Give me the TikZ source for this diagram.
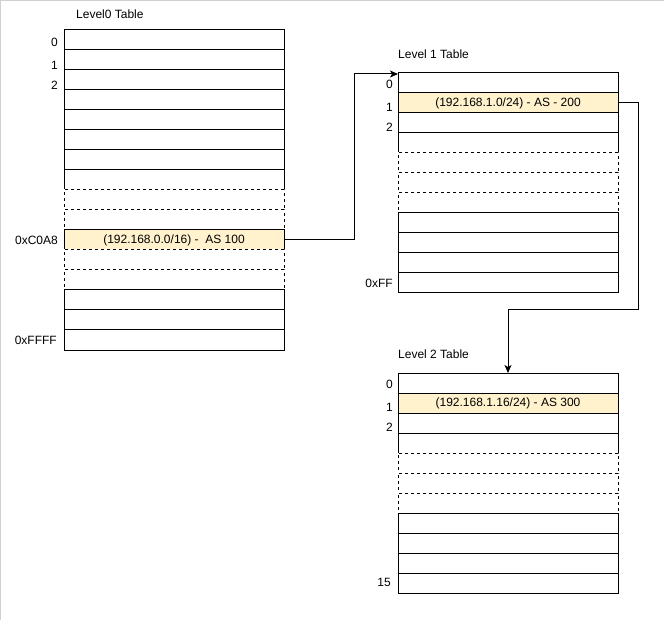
\documentclass[tikz,border=0pt]{standalone}
\usepackage{fontspec}
\setmainfont{Liberation Sans}
\usetikzlibrary{arrows.meta}
\definecolor{hitfill}{HTML}{FFF2CC}
\tikzset{
  row/.style={draw, rectangle, minimum width=220, minimum height=20, inner sep=0, outer sep=0, line width=1},
  hitrow/.style={row, fill=hitfill},
  gaprow/.style={row, dash pattern=on 3 off 3, preaction={draw=white, solid}},
  idx/.style={anchor=east, inner sep=0},
  title/.style={anchor=west, inner sep=0},
  link/.style={line width=1, -{Stealth[length=8, width=7, inset=2]}}
}
\begin{document}
\begin{tikzpicture}[x=1pt, y=-1pt, font=\fontsize{12}{14}\selectfont]
      \useasboundingbox (0,0) rectangle (664,620);
      \draw[black!18, line width=1] (0.5,620) -- (0.5,0.5) -- (664,0.5);
      % level 0 table
      \node[title] (t0) at (76,14) {Level0 Table};
      \draw
        (174,40) node[row] (l0r0){}
        (174,60) node[row] (l0r1){}
        (174,80) node[row] (l0r2){}
        (174,100) node[row] (l0r3){}
        (174,120) node[row] (l0r4){}
        (174,140) node[row] (l0r5){}
        (174,160) node[row] (l0r6){}
        (174,180) node[row] (l0r7){}
        (174,200) node[gaprow] (l0r8){}
        (174,220) node[gaprow] (l0r9){}
        (174,240) node[hitrow] (l0r10){(192.168.0.0/16) -~ AS 100}
        (174,260) node[gaprow] (l0r11){}
        (174,280) node[gaprow] (l0r12){}
        (174,300) node[row] (l0r13){}
        (174,320) node[row] (l0r14){}
        (174,340) node[row] (l0r15){};
      \node[idx] (i00) at (58,42) {0};
      \node[idx] (i01) at (58,65) {1};
      \node[idx] (i02) at (58,85) {2};
      \node[idx] (i0a) at (58,240) {0xC0A8};
      \node[idx] (i0b) at (57,340) {0xFFFF};
      % level 1 table
      \node[title] (t1) at (398,54.5) {Level 1 Table};
      \draw
        (508,83) node[row] (l1r0){}
        (508,103) node[hitrow] (l1r1){(192.168.1.0/24) - AS - 200}
        (508,123) node[row] (l1r2){}
        (508,143) node[row] (l1r3){}
        (508,163) node[gaprow] (l1r4){}
        (508,183) node[gaprow] (l1r5){}
        (508,203) node[gaprow] (l1r6){}
        (508,223) node[row] (l1r7){}
        (508,243) node[row] (l1r8){}
        (508,263) node[row] (l1r9){}
        (508,283) node[row] (l1r10){};
      \node[idx] (i10) at (393,84) {0};
      \node[idx] (i11) at (393,107) {1};
      \node[idx] (i12) at (393,127) {2};
      \node[idx] (i1a) at (393,283) {0xFF};
      % level 2 table
      \node[title] (t2) at (398,354.5) {Level 2 Table};
      \draw
        (508,383) node[row] (l2r0){}
        (508,403) node[hitrow] (l2r1){(192.168.1.16/24) - AS 300}
        (508,423) node[row] (l2r2){}
        (508,443) node[row] (l2r3){}
        (508,463) node[gaprow] (l2r4){}
        (508,483) node[gaprow] (l2r5){}
        (508,503) node[gaprow] (l2r6){}
        (508,523) node[row] (l2r7){}
        (508,543) node[row] (l2r8){}
        (508,563) node[row] (l2r9){}
        (508,583) node[row] (l2r10){};
      \node[idx] (i20) at (393,384) {0};
      \node[idx] (i21) at (393,407) {1};
      \node[idx] (i22) at (393,427) {2};
      \node[idx] (i2a) at (391,582) {15};
      % links
      \coordinate (up) at (354,240);
      \coordinate (down) at (638,310);
      \begin{scope}[link]
        \draw (l0r10.east) -- (up) |- ([yshift=-1]l1r0.north west);
        \draw (l1r1.east) -| (down) -| (l2r0.north);
      \end{scope}
    \end{tikzpicture}
\end{document}
